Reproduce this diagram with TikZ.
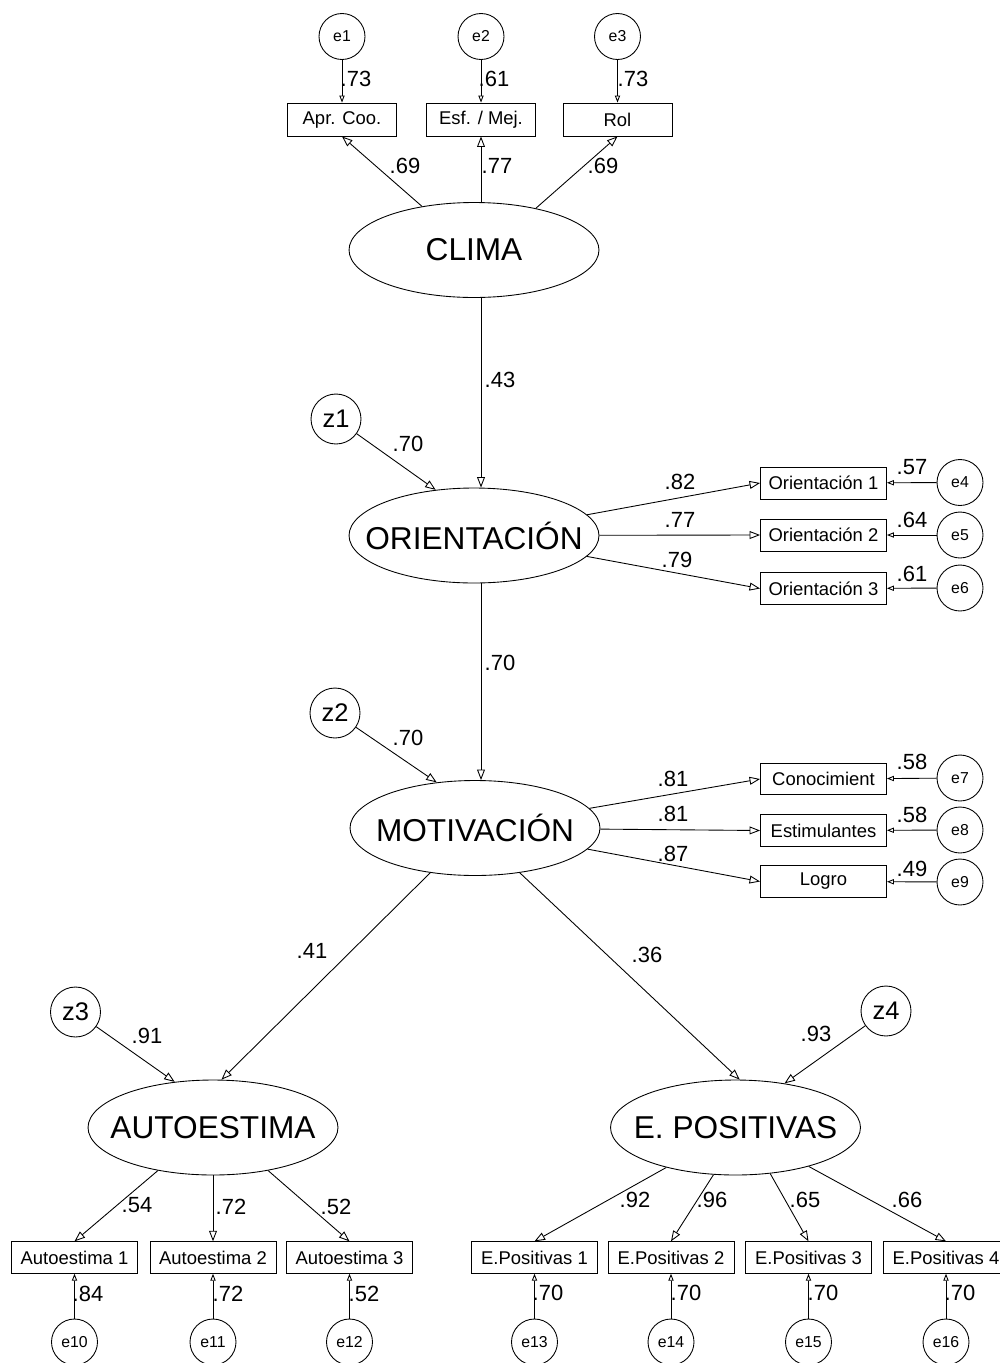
\documentclass[tikz,border=0pt]{standalone}
\usepackage{fontspec}
\setmainfont{Liberation Sans}
\usetikzlibrary{shapes.geometric}
\usetikzlibrary{arrows.meta}

\begin{document}
\begin{tikzpicture}[x=0.02cm,y=-0.02cm,
  every node/.style={inner sep=0pt},
  latent/.style={ellipse,draw,line width=0.5pt,minimum width=5cm,minimum height=1.9cm,font=\fontsize{18}{20}\selectfont},
  ind/.style={rectangle,draw,line width=0.5pt,minimum width=2.52cm,minimum height=0.63cm,font=\fontsize{10.5}{12}\selectfont},
  err/.style={circle,draw,line width=0.5pt,minimum size=0.92cm,font=\fontsize{9}{10}\selectfont},
  dist/.style={circle,draw,line width=0.5pt,minimum size=1cm,font=\fontsize{14.5}{16}\selectfont},
  coef/.style={font=\fontsize{12.5}{14}\selectfont},
  reg/.style={line width=0.5pt,-{Triangle[open,length=6pt,width=4.5pt]}},
  res/.style={line width=0.5pt,-{Triangle[open,length=4pt,width=3pt]}}]
\useasboundingbox (0,0) rectangle (1000,1363);

% CLIMA
\node[err] (e1) at (342,36.5) {e1};
\node[err] (e2) at (481,36.5) {e2};
\node[err] (e3) at (617.5,36.5) {e3};
\node[ind,minimum width=2.18cm,minimum height=0.66cm] (apr) at (342,119.5) {Apr. Coo.};
\node[ind,minimum width=2.18cm,minimum height=0.66cm] (esf) at (481,119.5) {Esf. / Mej.};
\node[ind,minimum width=2.18cm,minimum height=0.66cm] (rol) at (617.5,119.5) {Rol\hspace{0.5cm}};
\node[latent] (clima) at (474,250) {\makebox[0pt]{CLIMA}};
\draw[res] (e1) -- (apr);
\draw[res] (e2) -- (esf);
\draw[res] (e3) -- (rol);
\draw[reg] (clima.140) -- (apr.south);
\draw[reg] (clima.north -| esf.south) -- (esf.south);
\draw[reg] (clima.34) -- (rol.south);
\node[coef] (le1) at (356,78.5) {.73};
\node[coef] (le2) at (494,78.5) {.61};
\node[coef] (le3) at (633,78.5) {.73};
\node[coef] (lc1) at (405,166) {.69};
\node[coef] (lc2) at (497,166) {.77};
\node[coef] (lc3) at (603,166) {.69};

% ORIENTACION
\node[dist] (z1) at (336,419) {z1};
\node[latent] (orient) at (474,535.5) {\makebox[0pt]{ORIENTACIÓN}};
\node[ind,minimum height=0.64cm] (or1) at (823.5,483) {Orientación 1};
\node[ind,minimum height=0.64cm] (or2) at (823.5,535) {Orientación 2};
\node[ind,minimum height=0.64cm] (or3) at (823.5,588.5) {Orientación 3};
\node[err] (e4) at (960,482.5) {e4};
\node[err] (e5) at (960,535) {e5};
\node[err] (e6) at (960,588) {e6};
\draw[reg] (clima.south -| esf.south) -- (orient.north -| esf.south);
\draw[reg] (z1) -- (orient.130);
\draw[reg] (orient) -- (or1.west);
\draw[reg] (orient) -- (or2.west);
\draw[reg] (orient) -- (or3.west);
\draw[res] (e4) -- (or1);
\draw[res] (e5) -- (or2);
\draw[res] (e6) -- (or3);
\node[coef] (l43) at (500,380) {.43};
\node[coef] (lz1) at (408,444) {.70};
\node[coef] (lo1) at (680,482) {.82};
\node[coef] (lo2) at (680,520) {.77};
\node[coef] (lo3) at (677,560) {.79};
\node[coef] (le4) at (912,467) {.57};
\node[coef] (le5) at (912,520) {.64};
\node[coef] (le6) at (912,574) {.61};

% MOTIVACION
\node[dist] (z2) at (335,713) {z2};
\node[latent] (motiv) at (475,828) {\makebox[0pt]{MOTIVACIÓN}};
\node[ind] (cono) at (823.5,779) {Conocimient};
\node[ind] (estim) at (823.5,830.5) {Estimulantes};
\node[ind] (logro) at (823.5,881.5) {Logro};
\node[err] (e7) at (960,778) {e7};
\node[err] (e8) at (960,830) {e8};
\node[err] (e9) at (960,882) {e9};
\draw[reg] (orient.south -| esf.south) -- (motiv.north -| esf.south);
\draw[reg] (z2) -- (motiv.130);
\draw[reg] (motiv) -- (cono.west);
\draw[reg] (motiv) -- (estim.west);
\draw[reg] (motiv) -- (logro.west);
\draw[res] (e7) -- (cono);
\draw[res] (e8) -- (estim);
\draw[res] (e9) -- (logro);
\node[coef] (l70) at (500,663) {.70};
\node[coef] (lz2) at (408,738) {.70};
\node[coef] (lm1) at (673,779) {.81};
\node[coef] (lm2) at (673,814) {.81};
\node[coef] (lm3) at (673,854) {.87};
\node[coef] (le7) at (912,762) {.58};
\node[coef] (le8) at (912,815) {.58};
\node[coef] (le9) at (912,869) {.49};

% AUTOESTIMA
\node[dist] (z3) at (75.5,1012) {z3};
\node[latent] (auto) at (213,1127.5) {\makebox[0pt]{AUTOESTIMA}};
\node[ind] (a1) at (74.5,1257.5) {Autoestima 1};
\node[ind] (a2) at (213,1257.5) {Autoestima 2};
\node[ind] (a3) at (349.5,1257.5) {Autoestima 3};
\node[err] (e10) at (74.5,1342) {e10};
\node[err] (e11) at (213,1342) {e11};
\node[err] (e12) at (349.5,1342) {e12};
\draw[reg] (motiv.225) -- (auto.80);
\draw[reg] (z3) -- (auto.130);
\draw[reg] (auto.218) -- (a1.north);
\draw[reg] (auto.south) -- (a2.north);
\draw[reg] (auto.322) -- (a3.north);
\draw[res] (e10) -- (a1);
\draw[res] (e11) -- (a2);
\draw[res] (e12) -- (a3);
\node[coef] (l41) at (312,951) {.41};
\node[coef] (lz3) at (147,1036) {.91};
\node[coef] (la1) at (137,1205) {.54};
\node[coef] (la2) at (231,1207) {.72};
\node[coef] (la3) at (336,1207) {.52};
\node[coef] (le10) at (88,1294) {.84};
\node[coef] (le11) at (228,1294) {.72};
\node[coef] (le12) at (364,1294) {.52};

% E. POSITIVAS
\node[dist] (z4) at (886,1011) {z4};
\node[latent] (epos) at (735.5,1127.5) {\makebox[0pt]{E. POSITIVAS}};
\node[ind] (p1) at (534.5,1257.5) {E.Positivas 1};
\node[ind] (p2) at (671,1257.5) {E.Positivas 2};
\node[ind] (p3) at (808.5,1257.5) {E.Positivas 3};
\node[ind] (p4) at (946,1257.5) {E.Positivas 4};
\node[err] (e13) at (534.5,1342) {e13};
\node[err] (e14) at (671,1342) {e14};
\node[err] (e15) at (808.5,1342) {e15};
\node[err] (e16) at (946,1342) {e16};
\draw[reg] (motiv.315) -- (epos.85);
\draw[reg] (z4) -- (epos.42);
\draw[reg] (epos.210) -- (p1.north);
\draw[reg] (epos.245) -- (p2.north);
\draw[reg] (epos.307) -- (p3.north);
\draw[reg] (epos.332) -- (p4.north);
\draw[res] (e13) -- (p1);
\draw[res] (e14) -- (p2);
\draw[res] (e15) -- (p3);
\draw[res] (e16) -- (p4);
\node[coef] (l36) at (647,955) {.36};
\node[coef] (lz4) at (816,1034) {.93};
\node[coef] (lp1) at (635,1200) {.92};
\node[coef] (lp2) at (712,1200) {.96};
\node[coef] (lp3) at (805,1200) {.65};
\node[coef] (lp4) at (907,1200) {.66};
\node[coef] (le13) at (548,1293) {.70};
\node[coef] (le14) at (686,1293) {.70};
\node[coef] (le15) at (823,1293) {.70};
\node[coef] (le16) at (960,1293) {.70};

\end{tikzpicture}
\end{document}
